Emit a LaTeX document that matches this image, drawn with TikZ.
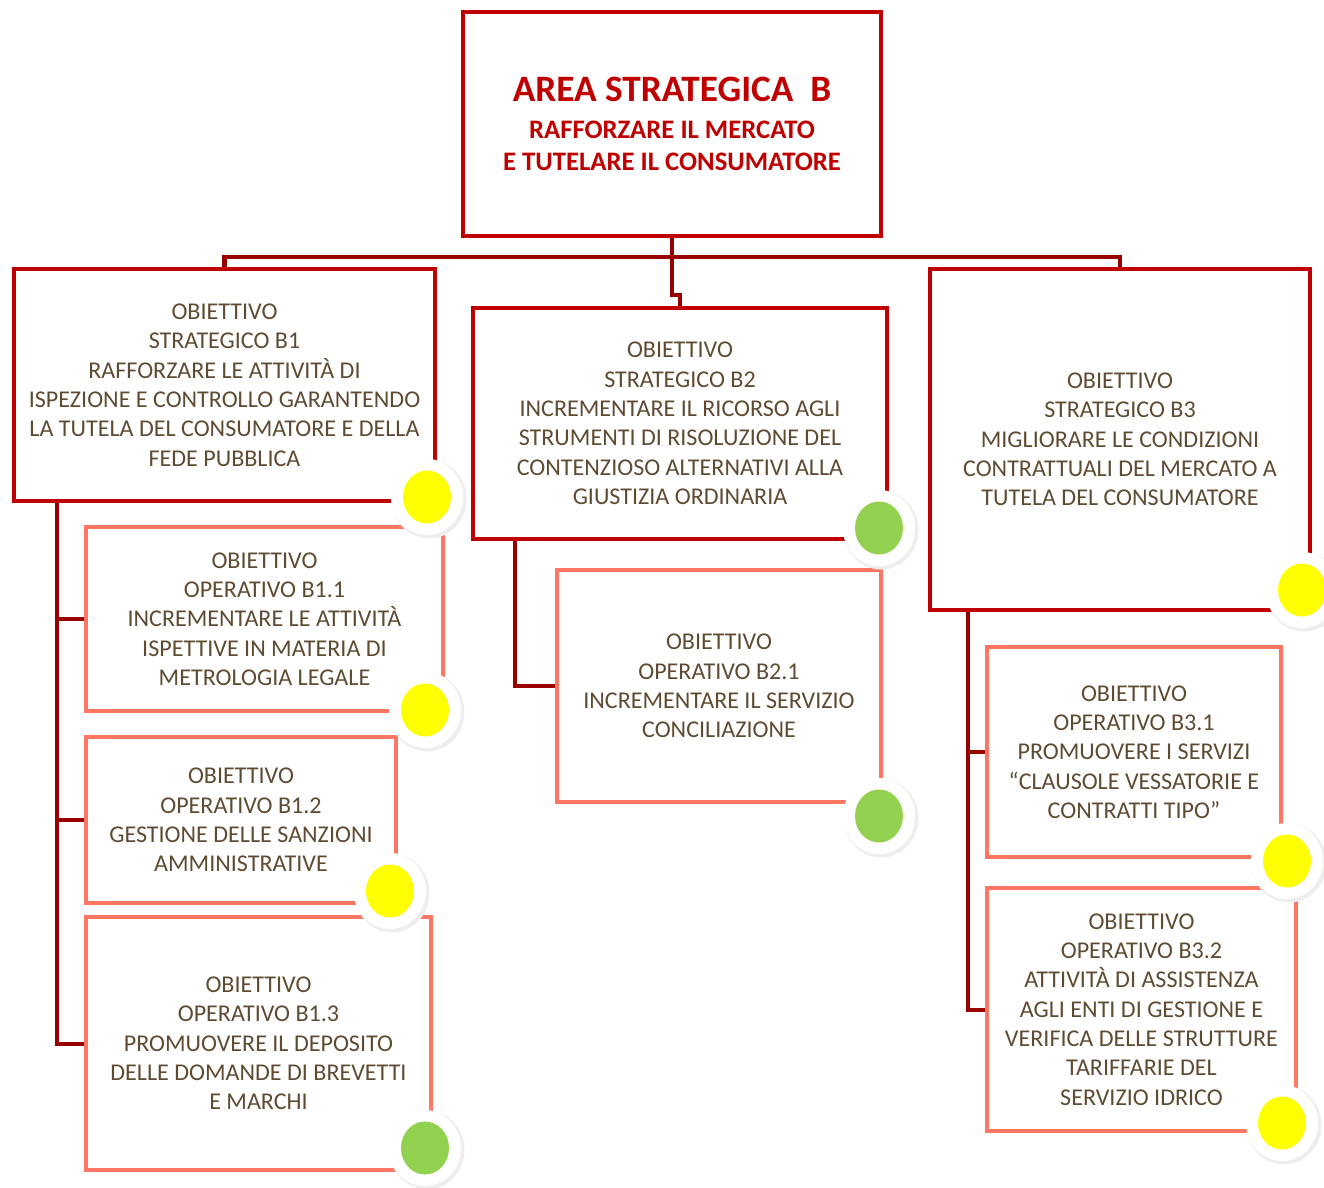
\documentclass[tikz,border=0pt]{standalone}
\usepackage{fontspec}
\setmainfont{Carlito}
\definecolor{areared}{HTML}{C00000}
\definecolor{linkred}{HTML}{990000}
\definecolor{salmon}{HTML}{FF7763}
\definecolor{textbrown}{HTML}{5F4B32}
\definecolor{lampyellow}{HTML}{FFFF00}
\definecolor{lampgreen}{HTML}{92D050}
\begin{document}
\begin{tikzpicture}[x=0.02cm,y=-0.02cm,
  areabox/.style={draw=areared,line width=2.3pt,align=center,text=areared,font=\bfseries\fontsize{15.2}{18.2}\selectfont},
  strbox/.style={draw=areared,line width=2.3pt,align=center,text=textbrown,font=\fontsize{13.7}{16.7}\selectfont},
  opbox/.style={draw=salmon,line width=2.3pt,align=center,text=textbrown,font=\fontsize{13.7}{16.7}\selectfont},
  link/.style={draw=linkred,line width=2.3pt}]
\useasboundingbox (0,0) rectangle (1324,1187);

% Area
\node[areabox,minimum width=8.36cm,minimum height=4.48cm] (top) at (672,124)
  {{\fontsize{21.2}{22}\selectfont AREA STRATEGICA\ \ B}\\[3pt]
   RAFFORZARE IL MERCATO\\ E TUTELARE IL CONSUMATORE};

% Strategic objectives
\node[strbox,minimum width=8.42cm,minimum height=4.64cm] (b1) at (224.5,385)
  {OBIETTIVO\\ STRATEGICO B1\\ RAFFORZARE LE ATTIVITÀ DI\\ ISPEZIONE E CONTROLLO GARANTENDO\\ LA TUTELA DEL CONSUMATORE E DELLA\\ FEDE PUBBLICA};
\node[strbox,minimum width=8.28cm,minimum height=4.62cm] (b2) at (680,423.5)
  {OBIETTIVO\\ STRATEGICO B2\\ INCREMENTARE IL RICORSO AGLI\\ STRUMENTI DI RISOLUZIONE DEL\\ CONTENZIOSO ALTERNATIVI ALLA\\ GIUSTIZIA ORDINARIA};
\node[strbox,minimum width=7.6cm,minimum height=6.82cm] (b3) at (1120,439.5)
  {OBIETTIVO\\ STRATEGICO B3\\ MIGLIORARE LE CONDIZIONI\\ CONTRATTUALI DEL MERCATO A\\ TUTELA DEL CONSUMATORE};

% Operative objectives
\node[opbox,minimum width=7.14cm,minimum height=3.68cm] (b11) at (264.5,619)
  {OBIETTIVO\\ OPERATIVO B1.1\\ INCREMENTARE LE ATTIVITÀ\\ ISPETTIVE IN MATERIA DI\\ METROLOGIA LEGALE};
\node[opbox,minimum width=6.2cm,minimum height=3.32cm] (b12) at (241,820)
  {OBIETTIVO\\ OPERATIVO B1.2\\ GESTIONE DELLE SANZIONI\\ AMMINISTRATIVE};
\node[opbox,minimum width=6.9cm,minimum height=5.06cm] (b13) at (258.5,1043.5)
  {OBIETTIVO\\ OPERATIVO B1.3\\ PROMUOVERE IL DEPOSITO\\ DELLE DOMANDE DI BREVETTI\\ E MARCHI};
\node[opbox,minimum width=6.48cm,minimum height=4.64cm] (b21) at (719,686)
  {OBIETTIVO\\ OPERATIVO B2.1\\ INCREMENTARE IL SERVIZIO\\ CONCILIAZIONE};
\node[opbox,minimum width=5.88cm,minimum height=4.2cm] (b31) at (1134,752)
  {OBIETTIVO\\ OPERATIVO B3.1\\ PROMUOVERE I SERVIZI\\ “CLAUSOLE VESSATORIE E\\ CONTRATTI TIPO”};
\node[opbox,minimum width=6.18cm,minimum height=4.86cm] (b32) at (1141.5,1009.5)
  {OBIETTIVO\\ OPERATIVO B3.2\\ ATTIVITÀ DI ASSISTENZA\\ AGLI ENTI DI GESTIONE E\\ VERIFICA DELLE STRUTTURE\\ TARIFFARIE DEL\\ SERVIZIO IDRICO};

% Connectors
\draw[link] (top.south) -- (top.south |- 0,295) -- (b2.north |- 0,295) -- (b2.north);
\draw[link] (b1.north) -- (b1.north |- 0,257) -- (b3.north |- 0,257) -- (b3.north);
\draw[link] (b1.south -| 57,0) |- (b13.west);
\draw[link] (b11.west -| 57,0) -- (b11.west);
\draw[link] (b12.west -| 57,0) -- (b12.west);
\draw[link] (b2.south -| 515,0) |- (b21.west);
\draw[link] (b3.south -| 968,0) |- (b32.west);
\draw[link] (b31.west -| 968,0) -- (b31.west);

% Status lamps
\foreach \x/\y/\c in {427/497/lampyellow,425/710/lampyellow,390/891/lampyellow,425/1148/lampgreen,
  879/528/lampgreen,879/816/lampgreen,1302/590/lampyellow,1287/861/lampyellow,1282/1123/lampyellow}{
  \fill[gray!13] (\x+2,\y+2) ellipse (0.75cm and 0.79cm);
  \fill[white] (\x,\y) ellipse (0.72cm and 0.76cm);
  \fill[\c] (\x,\y) ellipse (0.48cm and 0.53cm);
}

\end{tikzpicture}
\end{document}
